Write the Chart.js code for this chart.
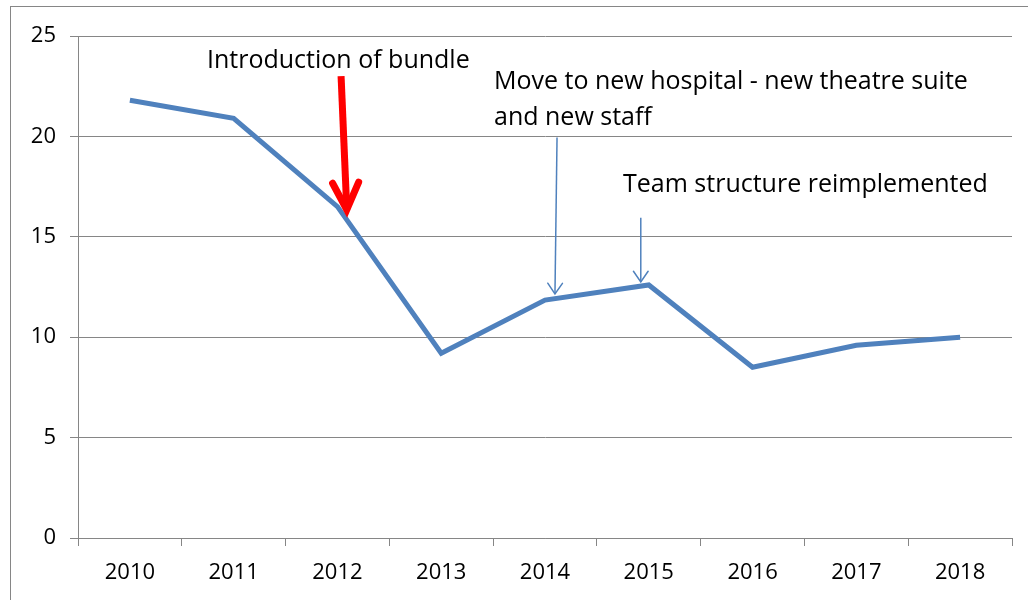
<!DOCTYPE html>
<html>
<head>
<meta charset="utf-8">
<script src="https://cdn.jsdelivr.net/npm/chart.js@4.4.1/dist/chart.umd.min.js"></script>
<style>
  html, body { margin: 0; padding: 0; background: #fff; }
  #wrap { width: 1028px; height: 600px; position: relative; }
</style>
</head>
<body>
<div id="wrap"><canvas id="chart"></canvas></div>
<script>
// data
const years = ['2010', '2011', '2012', '2013', '2014', '2015', '2016', '2017', '2018'];
const rates = [21.8, 20.9, 16.5, 9.2, 11.85, 12.6, 8.5, 9.6, 10.0];
const yTicks = [0, 5, 10, 15, 20, 25];

// annotations: arrows in (category position, value), labels in pixels
const arrows = [
  { from: [2.035, 23.0], to: [2.09, 16.35], color: '#ff0000', width: 7, head: 30, angle: 0.45 },
  { from: [4.116, 19.95], to: [4.096, 12.15], color: '#4f81bd', width: 1.5, head: 13, angle: 0.6 },
  { from: [4.923, 15.95], to: [4.923, 12.75], color: '#4f81bd', width: 1.5, head: 13, angle: 0.6 }
];
const notes = [
  { text: 'Introduction of bundle', x: 207, y: 61 },
  { text: 'Move to new hospital - new theatre suite', x: 494, y: 82 },
  { text: 'and new staff', x: 494, y: 118 },
  { text: 'Team structure reimplemented', x: 623, y: 185 }
];

const FONT = '"Open Sans", Lato, sans-serif';

function catX(xs, f) {
  const i = Math.floor(f);
  const step = xs.getPixelForValue(1) - xs.getPixelForValue(0);
  return xs.getPixelForValue(i) + (f - i) * step;
}

const annotate = {
  id: 'annotate',
  beforeDraw(chart) {
    const ctx = chart.ctx;
    ctx.save();
    ctx.strokeStyle = '#868686';
    ctx.lineWidth = 1;
    ctx.strokeRect(10.5, 6.5, 1100, 700);
    ctx.restore();
  },
  afterDatasetsDraw(chart) {
    const ctx = chart.ctx;
    const xs = chart.scales.x, ys = chart.scales.y;
    ctx.save();
    arrows.forEach(a => {
      const x1 = catX(xs, a.from[0]), y1 = ys.getPixelForValue(a.from[1]);
      const x2 = catX(xs, a.to[0]), y2 = ys.getPixelForValue(a.to[1]);
      ctx.strokeStyle = a.color;
      ctx.lineWidth = a.width;
      ctx.lineCap = 'butt';
      ctx.beginPath();
      ctx.moveTo(x1, y1);
      ctx.lineTo(x2, y2);
      ctx.stroke();
      const ang = Math.atan2(y1 - y2, x1 - x2);
      ctx.lineCap = 'round';
      ctx.beginPath();
      ctx.moveTo(x2 + a.head * Math.cos(ang - a.angle), y2 + a.head * Math.sin(ang - a.angle));
      ctx.lineTo(x2, y2);
      ctx.lineTo(x2 + a.head * Math.cos(ang + a.angle), y2 + a.head * Math.sin(ang + a.angle));
      ctx.stroke();
    });
    ctx.fillStyle = '#000';
    ctx.font = '25px ' + FONT;
    ctx.textBaseline = 'middle';
    ctx.textAlign = 'left';
    notes.forEach(n => ctx.fillText(n.text, n.x, n.y));
    ctx.restore();
  }
};

new Chart(document.getElementById('chart'), {
  type: 'line',
  data: {
    labels: years,
    datasets: [{
      data: rates,
      borderColor: '#4f81bd',
      borderWidth: 5,
      pointRadius: 0,
      tension: 0,
      fill: false
    }]
  },
  options: {
    responsive: true,
    maintainAspectRatio: false,
    animation: false,
    layout: { padding: { left: 0, top: 36, right: 16, bottom: 0 } },
    plugins: { legend: { display: false }, tooltip: { enabled: false } },
    scales: {
      x: {
        offset: true,
        grid: { offset: true, drawOnChartArea: false, color: '#868686', tickLength: 8 },
        border: { color: '#868686' },
        ticks: { color: '#000', font: { family: FONT, size: 22 }, padding: 14, maxRotation: 0 },
        afterFit(s) { s.height = 62; }
      },
      y: {
        min: 0,
        max: 25,
        afterBuildTicks(s) { s.ticks = yTicks.map(v => ({ value: v })); },
        grid: { color: '#868686', tickLength: 8 },
        border: { color: '#868686' },
        ticks: { color: '#000', font: { family: FONT, size: 22 }, padding: 14 },
        afterFit(s) { s.width = 78; }
      }
    }
  },
  plugins: [annotate]
});
</script>
</body>
</html>
